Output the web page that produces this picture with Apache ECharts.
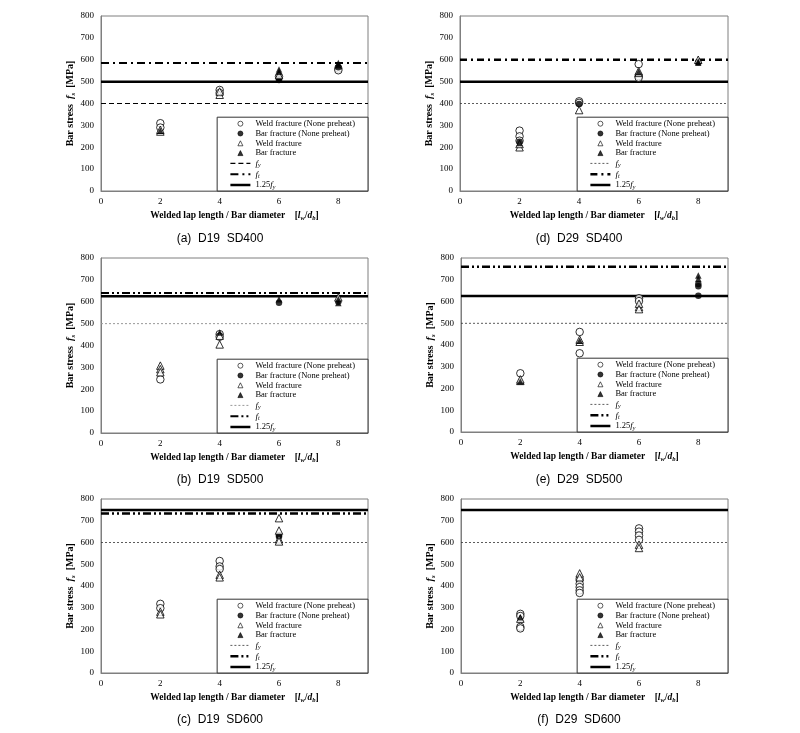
<!DOCTYPE html>
<html>
<head>
<meta charset="utf-8">
<script src="https://cdn.jsdelivr.net/npm/echarts@6/dist/echarts.min.js"></script>
<style>html,body{margin:0;padding:0;background:#fff}#c{width:800px;height:733px}</style>
</head>
<body>
<div id="c"></div>
<script>
// ---------- data ----------
const panelKeys = ['a', 'd', 'b', 'e', 'c', 'f'];
const captions = {
  a: '(a)  D19  SD400', d: '(d)  D29  SD400',
  b: '(b)  D19  SD500', e: '(e)  D29  SD500',
  c: '(c)  D19  SD600', f: '(f)  D29  SD600'
};
const xTickValues = [0, 2, 4, 6, 8];
const seriesLabels = ['Weld fracture (None preheat)', 'Bar fracture (None preheat)', 'Weld fracture', 'Bar fracture'];

// (a) D19 SD400
const a_weldNP = [[2, 310], [2, 290], [4, 462], [4, 448], [6, 524], [8, 560], [8, 552]];
const a_barNP  = [[6, 508], [6, 515], [8, 566]];
const a_weldT  = [[2, 272], [2, 280], [4, 440], [4, 455], [6, 530]];
const a_barT   = [[2, 276], [6, 545], [6, 556], [8, 585], [8, 575]];
// (d) D29 SD400
const d_weldNP = [[2, 276], [2, 250], [2, 230], [4, 410], [4, 403], [6, 580], [6, 525], [6, 518]];
const d_barNP  = [[2, 225], [4, 398], [8, 590]];
const d_weldT  = [[2, 200], [2, 215], [4, 370], [6, 540], [6, 548], [8, 600]];
const d_barT   = [[2, 220], [6, 545], [8, 592], [8, 586]];
// (b) D19 SD500
const b_weldNP = [[2, 245], [4, 452], [4, 440]];
const b_barNP  = [[6, 595], [8, 600]];
const b_weldT  = [[2, 308], [2, 292], [2, 278], [4, 405], [4, 445], [8, 620]];
const b_barT   = [[4, 460], [6, 612], [8, 612], [8, 594]];
// (e) D29 SD500
const e_weldNP = [[2, 270], [4, 460], [4, 362], [6, 615], [6, 602]];
const e_barNP  = [[8, 626], [8, 670], [8, 680]];
const e_weldT  = [[2, 235], [2, 242], [4, 415], [4, 425], [6, 575], [6, 590], [6, 565]];
const e_barT   = [[2, 232], [4, 420], [8, 720], [8, 705]];
// (c) D19 SD600
const c_weldNP = [[2, 318], [2, 298], [4, 515], [4, 490], [4, 478]];
const c_barNP  = [[6, 626], [6, 633]];
const c_weldT  = [[2, 282], [2, 270], [4, 452], [4, 440], [6, 712], [6, 655], [6, 615], [6, 605]];
const c_barT   = [];
// (f) D29 SD600
const f_weldNP = [[2, 272], [2, 262], [2, 212], [2, 205], [4, 432], [4, 410], [4, 395], [4, 380], [4, 368], [6, 665], [6, 650], [6, 632], [6, 612]];
const f_barNP  = [];
const f_weldT  = [[2, 250], [4, 458], [4, 440], [6, 590], [6, 575]];
const f_barT   = [[2, 256]];

// reference lines: f_y, f_t, 1.25 f_y
const fyValues   = { a: 400, d: 400, b: 500, e: 500, c: 600, f: 600 };
const ftValues   = { a: 585, d: 600, b: 640, e: 760, c: 733, f: null };
const fy125Values = { a: 500, d: 500, b: 625, e: 625, c: 750, f: 750 };

const pointData = {
  a: [a_weldNP, a_barNP, a_weldT, a_barT],
  d: [d_weldNP, d_barNP, d_weldT, d_barT],
  b: [b_weldNP, b_barNP, b_weldT, b_barT],
  e: [e_weldNP, e_barNP, e_weldT, e_barT],
  c: [c_weldNP, c_barNP, c_weldT, c_barT],
  f: [f_weldNP, f_barNP, f_weldT, f_barT]
};

// ---------- layout & style ----------
const W = 800, H = 733;
const layout = {
  a: { left: 101, top: 16,  width: 267, height: 175, capX: 220, capTop: 233 },
  d: { left: 460, top: 16,  width: 268, height: 175, capX: 579, capTop: 233 },
  b: { left: 101, top: 258, width: 267, height: 175, capX: 220, capTop: 474 },
  e: { left: 461, top: 258, width: 267, height: 174, capX: 579, capTop: 474 },
  c: { left: 101, top: 499, width: 267, height: 174, capX: 220, capTop: 714 },
  f: { left: 461, top: 499, width: 267, height: 174, capX: 579, capTop: 714 }
};
const fyStyle = {
  a: { type: [5, 3], width: 1.2, color: '#000' },
  d: { type: [2, 2], width: 0.8, color: '#333' },
  b: { type: [2, 2], width: 1, color: '#999' },
  e: { type: [2, 2], width: 0.8, color: '#333' },
  c: { type: [2, 2], width: 0.8, color: '#333' },
  f: { type: [2, 2], width: 0.8, color: '#333' }
};
const ftStyle = {
  a: { type: [8, 4, 2, 4], width: 2, color: '#000' },
  d: { type: [7, 4, 2, 4], width: 2.5, color: '#000' },
  b: { type: [8, 3, 2, 3, 2, 3], width: 2, color: '#000' },
  e: { type: [8, 3, 2, 3, 2, 3], width: 2.5, color: '#000' },
  c: { type: [8, 3, 2, 3, 2, 3], width: 2.5, color: '#000' },
  f: { type: [8, 3, 2, 3, 2, 3], width: 2.5, color: '#000' }
};
const fy125Style = { type: 'solid', width: 2.5, color: '#000' };

const SERIF = '"Liberation Serif", "Times New Roman", serif';
const SANS = '"Liberation Sans", Arial, sans-serif';
const TRI_ICON = 'path://M5,0L10,10L0,10Z';

const markerStyles = [
  { symbol: 'circle', size: 7.5, icon: 'circle', itemStyle: { color: '#fff', borderColor: '#000', borderWidth: 1 } },
  { symbol: 'circle', size: 6.5, icon: 'circle', itemStyle: { color: '#000', borderColor: '#000', borderWidth: 0 } },
  { symbol: 'triangle', size: 7.5, icon: TRI_ICON, itemStyle: { color: '#fff', borderColor: '#000', borderWidth: 1 } },
  { symbol: 'triangle', size: 6.5, icon: TRI_ICON, itemStyle: { color: '#000', borderColor: '#000', borderWidth: 0 } }
];

const grids = [], xAxes = [], yAxes = [], series = [], legends = [], titles = [];

const legendRich = {
  i: { fontFamily: SERIF, fontStyle: 'italic', fontSize: 9, lineHeight: 9, color: '#000' },
  s: { fontFamily: SERIF, fontStyle: 'italic', fontSize: 6, lineHeight: 5, padding: [4, 0, 0, 0], color: '#000' },
  n: { fontFamily: SERIF, fontSize: 8.5, lineHeight: 9, color: '#000' }
};

panelKeys.forEach((k, idx) => {
  const L = layout[k];
  grids.push({ left: L.left, top: L.top, width: L.width, height: L.height, show: true,
    borderColor: '#7f7f7f', borderWidth: 1, backgroundColor: 'transparent' });
  xAxes.push({
    type: 'value', gridIndex: idx, min: 0, max: 9, interval: 2,
    axisLine: { show: true, onZero: false, lineStyle: { color: '#7f7f7f', width: 1 } },
    axisTick: { show: false }, splitLine: { show: false },
    axisLabel: { fontFamily: SERIF, fontSize: 9, color: '#000', margin: 6,
      formatter: v => (xTickValues.indexOf(v) >= 0 ? String(v) : '') },
    name: '{b|Welded lap length / Bar diameter    [}{i|l}{s|w}{b|/}{i|d}{s|b}{b|]}',
    nameLocation: 'middle', nameGap: 19,
    nameTextStyle: { rich: {
      b: { fontFamily: SERIF, fontWeight: 'bold', fontSize: 9.5, lineHeight: 11, color: '#000' },
      i: { fontFamily: SERIF, fontWeight: 'bold', fontStyle: 'italic', fontSize: 9.5, lineHeight: 11, color: '#000' },
      s: { fontFamily: SERIF, fontWeight: 'bold', fontStyle: 'italic', fontSize: 6.5, lineHeight: 6, padding: [5, 0, 0, 0], color: '#000' }
    } }
  });
  yAxes.push({
    type: 'value', gridIndex: idx, min: 0, max: 800, interval: 100,
    axisLine: { show: true, lineStyle: { color: '#7f7f7f', width: 1 } },
    axisTick: { show: false }, splitLine: { show: false },
    axisLabel: { fontFamily: SERIF, fontSize: 9, color: '#000', margin: 7 },
    name: '{b|Bar stress  }{i|f}{s|s}{b|  [MPa]}',
    nameLocation: 'middle', nameGap: 20,
    nameTextStyle: { rich: {
      b: { fontFamily: SERIF, fontWeight: 'bold', fontSize: 10, lineHeight: 12, color: '#000' },
      i: { fontFamily: SERIF, fontWeight: 'bold', fontStyle: 'italic', fontSize: 10.5, lineHeight: 12, color: '#000' },
      s: { fontFamily: SERIF, fontWeight: 'bold', fontStyle: 'italic', fontSize: 7, lineHeight: 6, padding: [6, 0, 0, 0], color: '#000' }
    } }
  });

  const legendData = [];
  // scatter series
  pointData[k].forEach((arr, j) => {
    const m = markerStyles[j];
    const nm = k + ':' + seriesLabels[j];
    legendData.push({ name: nm, icon: m.icon });
    series.push({
      type: 'scatter', name: nm, xAxisIndex: idx, yAxisIndex: idx,
      symbol: m.symbol, symbolSize: m.size, itemStyle: m.itemStyle, z: 5,
      data: arr
    });
  });
  // reference lines
  const lines = [
    { label: 'fy', v: fyValues[k], st: fyStyle[k] },
    { label: 'ft', v: ftValues[k], st: ftStyle[k] },
    { label: '125fy', v: fy125Values[k], st: fy125Style }
  ];
  lines.forEach(ln => {
    const nm = k + ':' + ln.label;
    series.push({
      type: 'line', name: nm, xAxisIndex: idx, yAxisIndex: idx, symbol: 'none',
      lineStyle: { color: ln.st.color, width: ln.st.width, type: ln.st.type },
      itemStyle: { color: ln.st.color }, z: 3, silent: true, animation: false,
      data: ln.v == null ? [] : [[0, ln.v], [9, ln.v]]
    });
    legendData.push({ name: nm, itemStyle: { opacity: 0 },
      lineStyle: { color: ln.st.color, width: ln.st.width, type: ln.st.type } });
  });

  legends.push({
    data: legendData, orient: 'vertical',
    right: W - (L.left + L.width), bottom: H - (L.top + L.height),
    padding: [2, 13, 1, 12], itemGap: 0.8, itemWidth: 20, itemHeight: 5,
    symbolKeepAspect: true,
    borderColor: '#333', borderWidth: 1, backgroundColor: '#fff',
    selectedMode: false, z: 10,
    itemStyle: { borderWidth: 0.8 },
    textStyle: { fontFamily: SERIF, fontSize: 8.5, lineHeight: 9, color: '#000', rich: legendRich },
    formatter: name => {
      const lab = name.split(':').slice(1).join(':');
      if (lab === 'fy') return '{i|f}{s|y}';
      if (lab === 'ft') return '{i|f}{s|t}';
      if (lab === '125fy') return '{n|1.25}{i|f}{s|y}';
      return '{n|' + lab + '}';
    }
  });

  titles.push({
    text: captions[k], left: L.capX, top: L.capTop, textAlign: 'center', padding: 0,
    textStyle: { fontFamily: SANS, fontSize: 12, fontWeight: 'normal', color: '#000' }
  });
});

const chart = echarts.init(document.getElementById('c'), null, { renderer: 'canvas' });
chart.setOption({
  animation: false,
  backgroundColor: '#fff',
  title: titles, grid: grids, xAxis: xAxes, yAxis: yAxes, legend: legends, series: series
});
</script>
</body>
</html>
